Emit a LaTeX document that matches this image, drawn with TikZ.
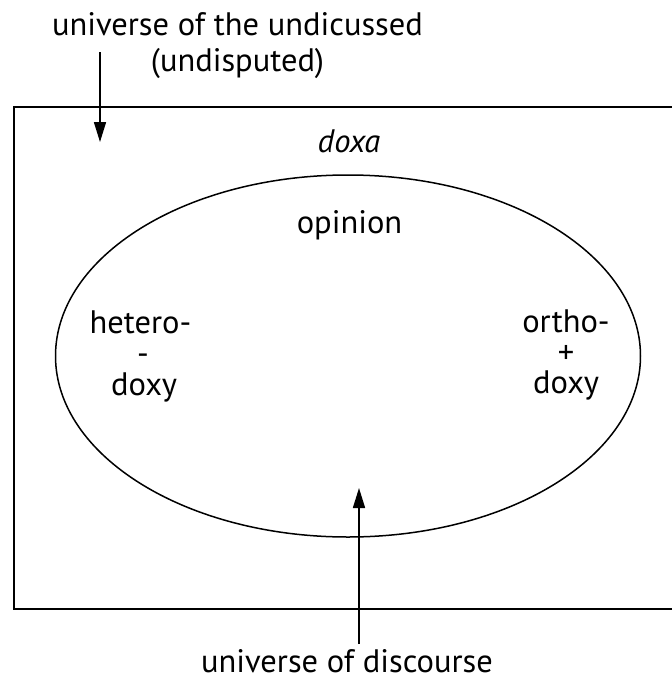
\documentclass[tikz,border=0pt]{standalone}
\usepackage{fontspec}
\setmainfont{PT Sans}
\usetikzlibrary{arrows.meta,shapes.geometric}
\begin{document}
\begin{tikzpicture}[x=1pt,y=-1pt,
  txt/.style={font=\fontsize{32.5}{38}\selectfont, inner sep=0pt, anchor=base},
  frameline/.style={line width=1.5pt},
  arr/.style={line width=1.6pt, -{Triangle[length=20pt,width=12pt]}}]
\useasboundingbox (0,0) rectangle (672,681);
\fill[white] (0,0) rectangle (672,681);
% frame (right side runs off the picture)
\draw[frameline] (673,107) -- (14,107) -- (14,609) -- (673,609);
% universe of discourse ellipse
\node[ellipse, draw, line width=1.5pt, minimum width=585pt, minimum height=362pt, inner sep=0pt] (disc) at (348,356) {};
% texts
\node[txt] (undisc1) at (237.5,35) {universe of the undicussed};
\node[txt] (undisc2) at (237.5,71) {(undisputed)};
\node[txt, font=\fontsize{32.5}{38}\selectfont\itshape] (doxa) at (349,152) {doxa};
\node[txt] (opinion) at (349.5,233) {opinion};
\node[txt] (het1) at (140.5,333) {hetero-};
\node[txt] (het2) at (143,364) {-};
\node[txt] (het3) at (144,395) {doxy};
\node[txt] (orth1) at (566,332) {ortho-};
\node[txt] (orth2) at (566,363) {+};
\node[txt] (orth3) at (566,393) {doxy};
\node[txt] (discourse) at (347,672) {universe of discourse};
% arrows
\coordinate (a1s) at (100,52);
\coordinate (a1e) at (100,142);
\coordinate (a2s) at (359,644);
\coordinate (a2e) at (359,488);
\draw[arr] (a1s) -- (a1e);
\draw[arr] (a2s) -- (a2e);
\end{tikzpicture}
\end{document}
